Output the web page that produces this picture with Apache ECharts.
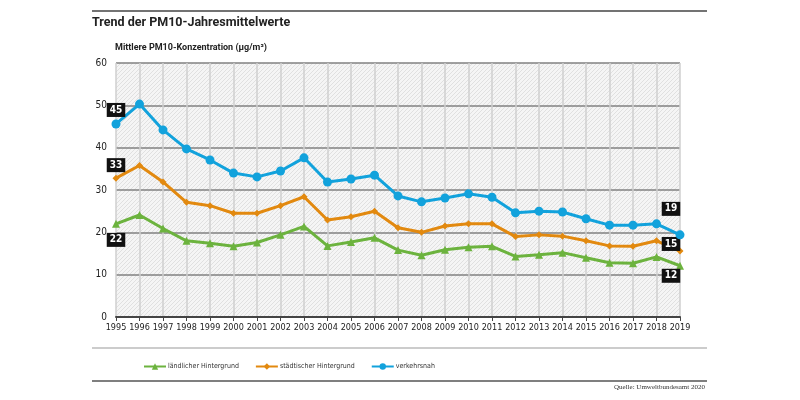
<!DOCTYPE html>
<html><head><meta charset="utf-8">
<script src="https://cdn.jsdelivr.net/npm/echarts@6/dist/echarts.min.js"></script>
<style>html,body{margin:0;padding:0;background:#fff}#c{width:800px;height:400px}</style>
</head><body><div id="c"></div>
<script>
const years = ['1995','1996','1997','1998','1999','2000','2001','2002','2003','2004','2005','2006','2007','2008','2009','2010','2011','2012','2013','2014','2015','2016','2017','2018','2019'];
const laendlich = [22.0,24.1,20.9,18.0,17.4,16.7,17.6,19.4,21.4,16.8,17.7,18.7,15.8,14.6,15.9,16.5,16.7,14.3,14.7,15.2,14.0,12.8,12.7,14.2,12.1];
const staedtisch = [32.8,35.8,31.9,27.1,26.3,24.5,24.5,26.3,28.4,22.9,23.7,25.0,21.1,20.0,21.5,22.0,22.0,19.0,19.4,19.1,18.0,16.8,16.7,18.0,15.6];
const verkehr = [45.6,50.3,44.2,39.7,37.1,34.0,33.1,34.5,37.6,31.9,32.6,33.5,28.6,27.2,28.1,29.1,28.3,24.6,25.0,24.8,23.2,21.7,21.7,22.0,19.4];
const yTicks = [0,10,20,30,40,50,60];
const names = ['ländlicher Hintergrund','städtischer Hintergrund','verkehrsnah'];
const firstLabels = ['22','33','45'];
const lastLabels = ['12','15','19'];

const FONT = '"DejaVu Sans Condensed","Noto Sans",sans-serif';
const TFONT = 'Roboto,"DejaVu Sans Condensed",sans-serif';
const colors = ['#6cb33e','#e2890f','#12a2dc'];

// hatch pattern
const pc = document.createElement('canvas');
pc.width = 4; pc.height = 4;
const g = pc.getContext('2d');
g.fillStyle = '#f5f5f5'; g.fillRect(0,0,4,4);
g.strokeStyle = '#e0e0e0'; g.lineWidth = 1;
g.beginPath(); g.moveTo(0,4); g.lineTo(4,0); g.stroke();
g.beginPath(); g.moveTo(-1,1); g.lineTo(1,-1); g.stroke();
g.beginPath(); g.moveTo(3,5); g.lineTo(5,3); g.stroke();

const lblBase = {show:true, position:'inside', backgroundColor:'#111', color:'#fff', fontFamily:FONT, fontWeight:'bold', fontSize:10, padding:[2,3,1,3], lineHeight:11};
const firstOffsets = [[0,16],[0,-13],[0,-14]];
const lastOffsets = [[-9,10],[-9,-7],[-9,-26]];

function build(arr, i){
  return arr.map((v,k)=>{
    if(k===0) return {value:v, label:Object.assign({}, lblBase, {formatter:firstLabels[i], offset:firstOffsets[i]})};
    if(k===arr.length-1) return {value:v, label:Object.assign({}, lblBase, {formatter:lastLabels[i], offset:lastOffsets[i]})};
    return v;
  });
}
const symbols = ['triangle','diamond','circle'];
const sizes = [8,7,9];
const series = [laendlich, staedtisch, verkehr].map((arr,i)=>({
  name:names[i], type:'line', data:build(arr,i), symbol:symbols[i], symbolSize:sizes[i],
  lineStyle:{color:colors[i], width:3}, itemStyle:{color:colors[i]}, z: 3+i,
  label:{show:false}
}));

const chart = echarts.init(document.getElementById('c'), null, {renderer:'canvas'});
chart.setOption({
  animation:false,
  textStyle:{fontFamily:FONT},
  grid:{left:116, right:120, top:63, bottom:83, show:true, backgroundColor:{image:pc, repeat:'repeat'}, borderWidth:0},
  title:[
    {text:'Trend der PM10-Jahresmittelwerte', left:92, top:16, padding:0, textStyle:{fontFamily:TFONT, fontSize:12.5, fontWeight:'bold', color:'#222'}},
    {text:'Mittlere PM10-Konzentration (µg/m³)', left:115, top:43, padding:0, textStyle:{fontFamily:TFONT, fontSize:9, fontWeight:'bold', color:'#222'}}
  ],
  legend:{left:143, top:363, itemGap:16, itemWidth:22, itemHeight:8, padding:0,
    textStyle:{fontFamily:FONT, fontSize:7, color:'#333', padding:[0,0,0,-3]},
    data:names},
  xAxis:{type:'category', data:years, boundaryGap:false,
    axisLine:{lineStyle:{color:'#444', width:2}}, axisTick:{show:true, length:4, lineStyle:{color:'#444'}},
    axisLabel:{fontFamily:FONT, fontSize:9, color:'#222', margin:6, interval:0},
    splitLine:{show:true, lineStyle:{color:'#cfcfcf', width:1.5}}},
  yAxis:{type:'value', min:yTicks[0], max:yTicks[yTicks.length-1], interval:10,
    axisLine:{show:false}, axisTick:{show:false},
    axisLabel:{fontFamily:FONT, fontSize:10, color:'#222', margin:9},
    splitLine:{lineStyle:{color:'#808080', width:1.5}}},
  series:series,
  graphic:[
    {type:'line', shape:{x1:92,y1:11,x2:707,y2:11}, style:{stroke:'#444', lineWidth:1.5}},
    {type:'line', shape:{x1:92,y1:348,x2:707,y2:348}, style:{stroke:'#bbb', lineWidth:1.5}},
    {type:'line', shape:{x1:92,y1:381,x2:707,y2:381}, style:{stroke:'#555', lineWidth:1.5}},
    {type:'text', right:95, top:384, style:{text:'Quelle: Umweltbundesamt 2020', font:'7px "Liberation Serif","DejaVu Serif",serif', fill:'#333'}}
  ]
});
</script></body></html>
